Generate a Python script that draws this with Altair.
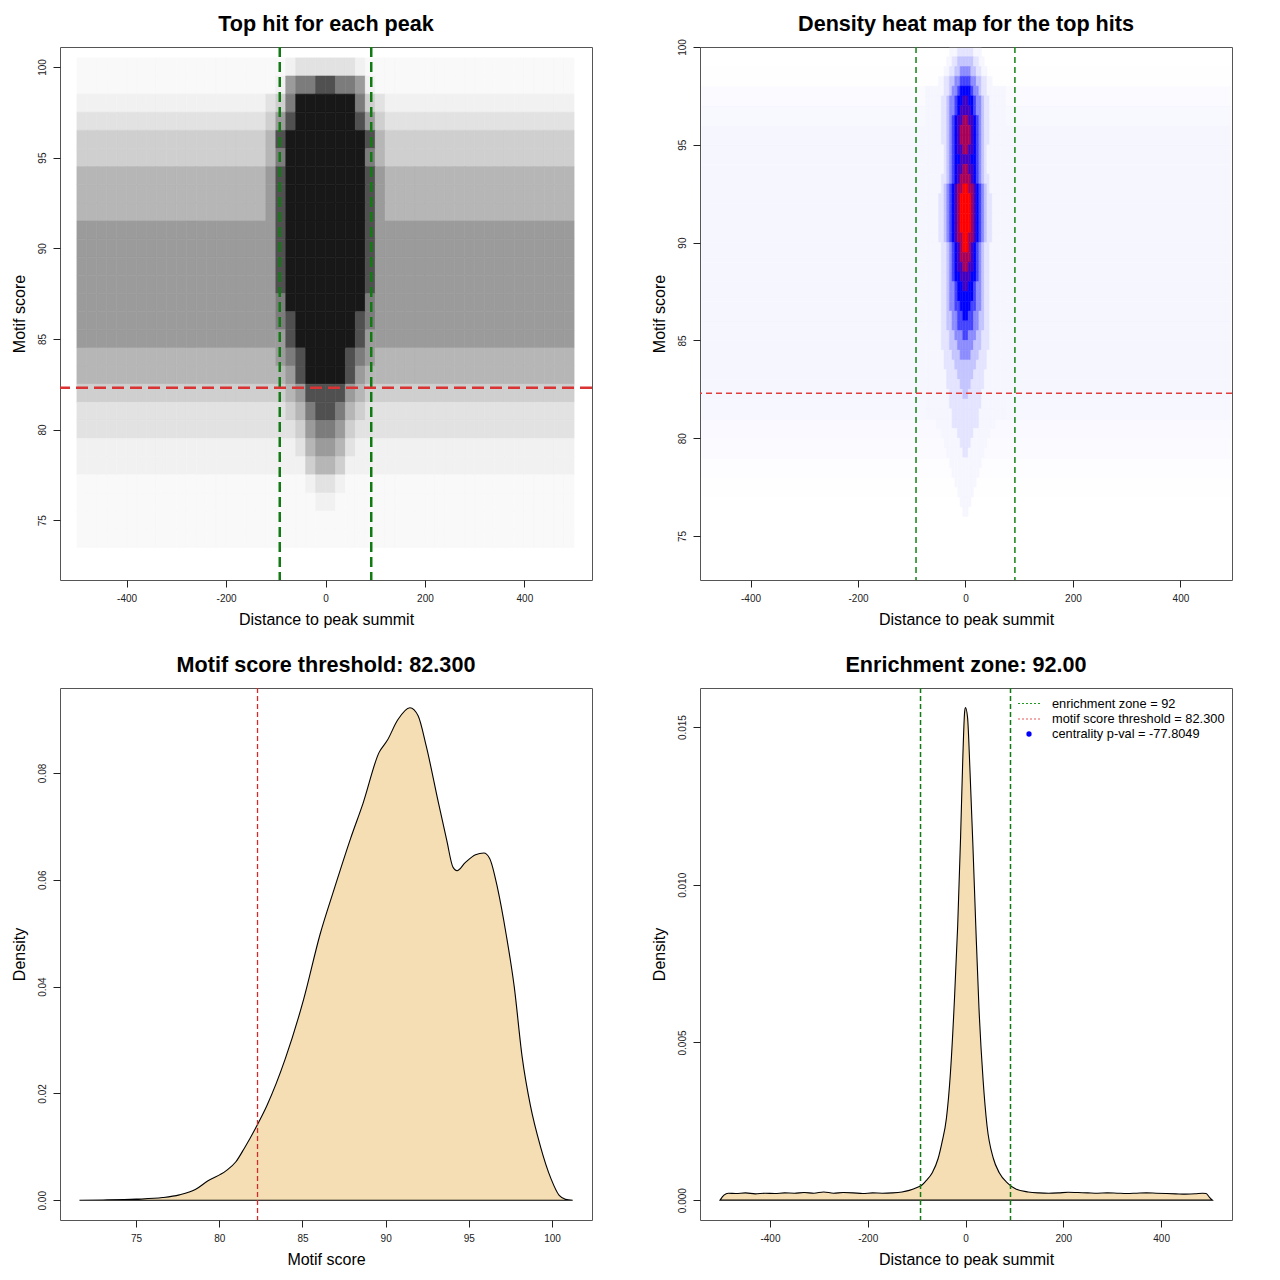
import altair as alt
import pandas as pd

FONT = "Liberation Sans"

# ---------------- values ----------------
ZONE = 92
THRESH = 82.3
CENTRALITY = "-77.8049"

TITLE_TL = "Top hit for each peak"
TITLE_TR = "Density heat map for the top hits"
TITLE_BL = f"Motif score threshold: {THRESH:.3f}"
TITLE_BR = f"Enrichment zone: {ZONE:.2f}"
XLAB_DIST = "Distance to peak summit"
XLAB_SCORE = "Motif score"
YLAB_SCORE = "Motif score"
YLAB_DENS = "Density"

DIST_TICKS = [-400, -200, 0, 200, 400]
SCORE_TICKS = [75, 80, 85, 90, 95, 100]
DENS_TICKS_BL = [0.0, 0.02, 0.04, 0.06, 0.08]
DENS_TICKS_BR = [0.0, 0.005, 0.010, 0.015]

# top-left: how dark the point cloud is, per 20-unit distance bin (50 bins from -500)
# and per 1-unit score row (centred on the score); code 0..9 -> coverage below
SC_X_START = -500
SC_X_STEP = 20
SC_COVER = [0, 0.02, 0.05, 0.1, 0.17, 0.26, 0.36, 0.48, 0.66, 0.92]
SC_Y = [100, 99, 98, 97, 96, 95, 94, 93, 92, 91, 90, 89, 88, 87, 86, 85, 84,
        83, 82, 81, 80, 79, 78, 77, 76, 75, 74, 73]
SC_ROWS = [
    "1111111111111111111" "112333333211" "1111111111111111111",
    "1111111111111111111" "126778877621" "1111111111111111111",
    "2222222222222222222" "347999999743" "2222222222222222222",
    "3333333333333333333" "468999999864" "3333333333333333333",
    "4444444444444444444" "589999999985" "4444444444444444444",
    "4444444444444444444" "579999999975" "4444444444444444444",
    "5555555555555555555" "689999999986" "5555555555555555555",
    "5555555555555555555" "689999999986" "5555555555555555555",
    "5555555555555555555" "689999999986" "5555555555555555555",
    "6666666666666666666" "689999999986" "6666666666666666666",
    "6666666666666666666" "689999999986" "6666666666666666666",
    "6666666666666666666" "689999999986" "6666666666666666666",
    "6666666666666666666" "689999999986" "6666666666666666666",
    "6666666666666666666" "679999999976" "6666666666666666666",
    "6666666666666666666" "678999999876" "6666666666666666666",
    "6666666666666666666" "668999999866" "6666666666666666666",
    "5555555555555555555" "567899998765" "5555555555555555555",
    "5555555555555555555" "556899998655" "5555555555555555555",
    "4444444444444444444" "445688886544" "4444444444444444444",
    "3333333333333333333" "334578875433" "3333333333333333333",
    "3333333333333333333" "333467764333" "3333333333333333333",
    "2222222222222222222" "222356653222" "2222222222222222222",
    "2222222222222222222" "222245542222" "2222222222222222222",
    "1111111111111111111" "111123321111" "1111111111111111111",
    "1111111111111111111" "111112211111" "1111111111111111111",
    "1111111111111111111" "111111111111" "1111111111111111111",
    "1111111111111111111" "111111111111" "1111111111111111111",
    "0000000000000000000" "000000000000" "0000000000000000000",
]

# top-right: heat map level (0 white .. 6 blue .. 9 red),
# 5-unit columns from -75, half-unit rows (lower edge listed)
HM_COLORS = ["#ffffff", "#f6f6ff", "#e4e4ff", "#c4c4ff", "#8c8cff",
             "#4444ff", "#0000ff", "#4400c0", "#a80058", "#ff0000"]
HM_BG_Y0 = list(range(76, 100))
HM_BG_LEVEL = [0, 0.1, 0.2, 0.4, 0.7, 0.9, 1, 1, 1, 1, 1, 1, 1, 1, 1, 1, 1, 1,
               1, 1, 0.8, 0.4, 0.1, 0]
HM_X_START = -75
HM_X_STEP = 5
HM_Y_STEP = 0.5
HM_Y0 = [99.5, 99.0, 98.5, 98.0, 97.5, 97.0, 96.5, 96.0, 95.5, 95.0, 94.5,
         94.0, 93.5, 93.0, 92.5, 92.0, 91.5, 91.0, 90.5, 90.0, 89.5, 89.0,
         88.5, 88.0, 87.5, 87.0, 86.5, 86.0, 85.5, 85.0, 84.5, 84.0, 83.5,
         83.0, 82.5, 82.0, 81.5, 81.0, 80.5, 80.0, 79.5, 79.0, 78.5, 78.0,
         77.5, 77.0, 76.5, 76.0]
HM_ROWS = [
    "000000000111222" "222111000000000",
    "000000001122333" "333221100000000",
    "000000011223344" "443322110000000",
    "000001122334455" "554433221100000",
    "111111122344566" "665443221111111",
    "111111223445667" "766544322111111",
    "111111223445677" "776544322111111",
    "111111223456778" "877654322111111",
    "111111223456788" "887654322111111",
    "111111223456788" "887654322111111",
    "111111123456778" "877654321111111",
    "111111123456677" "776654321111111",
    "111111123456778" "877654321111111",
    "111111223456788" "887654322111111",
    "111111234567889" "988765432111111",
    "111112234567899" "998765432211111",
    "111112234567899" "998765432211111",
    "111112234567899" "998765432211111",
    "111112234567899" "998765432211111",
    "111112234567889" "988765432211111",
    "111111223456789" "987654322111111",
    "111111223456788" "887654322111111",
    "111111223456778" "877654322111111",
    "111111223456677" "776654322111111",
    "111111223445667" "766544322111111",
    "111111223445666" "666544322111111",
    "111111223445566" "665544322111111",
    "111111223344556" "655443322111111",
    "111111223344555" "555443322111111",
    "111111222334445" "544433222111111",
    "111111222333444" "444333222111111",
    "111111122233344" "443332221111111",
    "111111122223333" "333322221111111",
    "111111112222333" "333222211111111",
    "111111112222233" "332222211111111",
    "111111111222223" "322222111111111",
    "111111111222222" "222222111111111",
    "111111111122222" "222221111111111",
    "000011111122222" "222221111110000",
    "000000111111222" "222111111000000",
    "000000011111122" "221111110000000",
    "000000001111112" "211111100000000",
    "000000000111111" "111111000000000",
    "000000000011111" "111110000000000",
    "000000000001111" "111100000000000",
    "000000000000111" "111000000000000",
    "000000000000011" "110000000000000",
    "000000000000001" "100000000000000",
]

# bottom-left: density of motif scores
SCORE_X = [71.6, 73.0, 75.0, 76.6, 77.6, 78.56, 79.3, 80.4, 81.0, 81.5, 82.25,
           82.86, 83.97, 85.07, 86.06, 86.9, 87.9, 88.64, 89.6, 90.1, 90.72,
           91.46, 91.95, 92.44, 93.18, 93.67, 94.04, 94.29, 94.78, 95.4, 95.9,
           96.25, 96.74, 97.24, 97.73, 98.2, 98.7, 99.3, 99.94, 100.43, 100.8,
           101.24]
SCORE_D = [0.0, 0.00005, 0.0002, 0.0005, 0.001, 0.002, 0.0036, 0.0055, 0.0072,
           0.0097, 0.0139, 0.0177, 0.0265, 0.0376, 0.0498, 0.0582, 0.0678,
           0.0743, 0.0838, 0.0861, 0.0899, 0.0922, 0.0907, 0.085, 0.0743,
           0.0674, 0.0624, 0.0617, 0.0632, 0.0647, 0.065, 0.064, 0.0582,
           0.0498, 0.0399, 0.0269, 0.0177, 0.0101, 0.004, 0.0009, 0.0002, 0.0]

# bottom-right: density of distances
DIST_X = [-502, -494, -485, -470, -450, -430, -410, -390, -370, -350, -330,
          -310, -290, -270, -250, -230, -210, -190, -170, -150, -130, -115,
          -98, -89, -81, -68, -56, -48, -39, -31, -22.5, -16, -10, -5.8, -1.7,
          0, 4.2, 9.2, 15, 21, 27.5, 36, 44, 57, 69, 86, 103, 128, 150, 170,
          190, 210, 230, 250, 270, 290, 310, 330, 350, 370, 390, 410, 430, 450,
          470, 485, 492, 499, 505]
DIST_D = [0.0, 0.00016, 0.00022, 0.00021, 0.00023, 0.0002, 0.00022, 0.00021,
          0.00023, 0.00022, 0.00024, 0.00022, 0.00026, 0.00022, 0.00024,
          0.00023, 0.00021, 0.00023, 0.00022, 0.00023, 0.00026, 0.00031,
          0.00041, 0.00048, 0.00061, 0.00087, 0.00132, 0.00184, 0.0026,
          0.004, 0.0064, 0.0087, 0.01155, 0.01388, 0.0155, 0.01562, 0.0153,
          0.0136, 0.0113, 0.0087, 0.0061, 0.0038, 0.00236, 0.00132, 0.00087,
          0.00054, 0.00035, 0.00026, 0.00023, 0.00022, 0.00023, 0.00025,
          0.00024, 0.00023, 0.00022, 0.00023, 0.00022, 0.00021, 0.00022,
          0.00023, 0.00022, 0.00021, 0.0002, 0.00019, 0.0002, 0.00022,
          0.00021, 0.00009, 0.0]

LEGEND_TEXT = [f"enrichment zone = {ZONE}",
               f"motif score threshold = {THRESH:.3f}",
               f"centrality p-val = {CENTRALITY}"]

# ---------------- tables ----------------
sc_recs = []
for yc, row in zip(SC_Y, SC_ROWS):
    for i, ch in enumerate(row):
        if ch == "0":
            continue
        x0 = SC_X_START + i * SC_X_STEP
        sc_recs.append({"x0": x0, "x1": x0 + SC_X_STEP, "y0": yc - 0.5,
                        "y1": yc + 0.5, "cov": SC_COVER[int(ch)]})
sc_df = pd.DataFrame(sc_recs)

hm_bg_df = pd.DataFrame({"x0": -491, "x1": 493.5, "y0": HM_BG_Y0,
                         "y1": [y + 1 for y in HM_BG_Y0], "lev": HM_BG_LEVEL})
hm_bg_df = hm_bg_df[hm_bg_df["lev"] > 0]
hm_recs = []
for y0, row in zip(HM_Y0, HM_ROWS):
    for i, ch in enumerate(row):
        if ch == "0":
            continue
        x0 = HM_X_START + i * HM_X_STEP
        hm_recs.append({"x0": x0, "x1": x0 + HM_X_STEP, "y0": y0,
                        "y1": min(y0 + HM_Y_STEP, 99.94), "lev": int(ch)})
hm_df = pd.concat([hm_bg_df, pd.DataFrame(hm_recs)], ignore_index=True)

score_df = pd.DataFrame({"s": SCORE_X, "d": SCORE_D})
dist_df = pd.DataFrame({"x": DIST_X, "d": DIST_D})
zone_df = pd.DataFrame({"x": [-ZONE, ZONE]})
thr_df = pd.DataFrame({"y": [THRESH]})

W, H = 532, 533
INT_LABEL = "'' + datum.value"


def title(t, off):
    return alt.TitleParams(t, fontSize=21.6, font=FONT, fontWeight="bold",
                           anchor="middle", baseline="alphabetic", offset=off,
                           frame="group")


def xaxis(vals, t, expr=INT_LABEL):
    return alt.Axis(values=vals, title=t, labelExpr=expr)


def yaxis(vals, t, expr=INT_LABEL):
    return alt.Axis(values=vals, title=t, labelExpr=expr)


# ---------------- top-left ----------------
tl_xs = alt.Scale(domain=[-534, 536], nice=False, zero=False)
tl_ys = alt.Scale(domain=[71.7, 101.1], nice=False, zero=False)
tl_xa = xaxis(DIST_TICKS, XLAB_DIST)
tl_ya = yaxis(SCORE_TICKS, YLAB_SCORE)
gray = alt.Scale(domain=[0, 1], range=["#ffffff", "#000000"])
tl_cells = alt.Chart(sc_df).mark_rect(strokeWidth=0.6).encode(
    x=alt.X("x0:Q", scale=tl_xs, axis=tl_xa), x2="x1:Q",
    y=alt.Y("y0:Q", scale=tl_ys, axis=tl_ya), y2="y1:Q",
    color=alt.Color("cov:Q", scale=gray, legend=None),
    stroke=alt.Stroke("cov:Q", scale=gray, legend=None),
)
tl_v = alt.Chart(zone_df).mark_rule(color="#127a12", strokeWidth=2.5,
                                    strokeDash=[10, 5]).encode(
    x=alt.X("x:Q", scale=tl_xs, axis=tl_xa))
tl_h = alt.Chart(thr_df).mark_rule(color="#d93333", strokeWidth=2.5,
                                   strokeDash=[12, 6]).encode(
    y=alt.Y("y:Q", scale=tl_ys, axis=tl_ya))
tl = alt.layer(tl_cells, tl_v, tl_h).properties(width=W, height=H,
                                                 title=title(TITLE_TL, -7))

# ---------------- top-right ----------------
tr_xs = alt.Scale(domain=[-494, 496], nice=False, zero=False)
tr_ys = alt.Scale(domain=[72.75, 100], nice=False, zero=False)
tr_xa = xaxis(DIST_TICKS, XLAB_DIST)
tr_ya = yaxis(SCORE_TICKS, YLAB_SCORE)
heat = alt.Scale(domain=list(range(10)), range=HM_COLORS)
tr_cells = alt.Chart(hm_df).mark_rect(strokeWidth=0.5, clip=True).encode(
    x=alt.X("x0:Q", scale=tr_xs, axis=tr_xa), x2="x1:Q",
    y=alt.Y("y0:Q", scale=tr_ys, axis=tr_ya), y2="y1:Q",
    color=alt.Color("lev:Q", scale=heat, legend=None),
    stroke=alt.Stroke("lev:Q", scale=heat, legend=None),
)
tr_v = alt.Chart(zone_df).mark_rule(color="#228b22", strokeWidth=1.6,
                                    strokeDash=[6, 4]).encode(
    x=alt.X("x:Q", scale=tr_xs, axis=tr_xa))
tr_h = alt.Chart(thr_df).mark_rule(color="#e03c3c", strokeWidth=1.6,
                                   strokeDash=[6, 4]).encode(
    y=alt.Y("y:Q", scale=tr_ys, axis=tr_ya))
tr = alt.layer(tr_cells, tr_v, tr_h).properties(width=W, height=H,
                                                 title=title(TITLE_TR, -14))

# ---------------- bottom-left ----------------
bl_xs = alt.Scale(domain=[70.43, 102.4], nice=False, zero=False)
bl_ys = alt.Scale(domain=[-0.0037, 0.0959], nice=False, zero=False)
bl_xa = xaxis(SCORE_TICKS, XLAB_SCORE)
bl_ya = yaxis(DENS_TICKS_BL, YLAB_DENS, "format(datum.value, '.2f')")
bl_area = alt.Chart(score_df).mark_area(
    fill="#f5deb3", stroke="black", strokeWidth=1.1, interpolate="monotone"
).encode(x=alt.X("s:Q", scale=bl_xs, axis=bl_xa),
         y=alt.Y("d:Q", scale=bl_ys, axis=bl_ya))
bl_v = alt.Chart(pd.DataFrame({"x": [THRESH]})).mark_rule(
    color="#d42a2a", strokeWidth=1.3, strokeDash=[5, 3]).encode(
    x=alt.X("x:Q", scale=bl_xs, axis=bl_xa))
bl = alt.layer(bl_area, bl_v).properties(width=W, height=H - 1,
                                         title=title(TITLE_BL, -6))

# ---------------- bottom-right ----------------
br_xs = alt.Scale(domain=[-543, 545], nice=False, zero=False)
br_ys = alt.Scale(domain=[-0.00063, 0.01624], nice=False, zero=False)
br_xa = xaxis(DIST_TICKS, XLAB_DIST)
br_ya = yaxis(DENS_TICKS_BR, YLAB_DENS, "format(datum.value, '.3f')")
br_area = alt.Chart(dist_df).mark_area(
    fill="#f5deb3", stroke="black", strokeWidth=1.1, interpolate="monotone"
).encode(x=alt.X("x:Q", scale=br_xs, axis=br_xa),
         y=alt.Y("d:Q", scale=br_ys, axis=br_ya))
br_v = alt.Chart(zone_df).mark_rule(color="#127a12", strokeWidth=1.5,
                                    strokeDash=[5, 3]).encode(
    x=alt.X("x:Q", scale=br_xs, axis=br_xa))

leg_rows = [15.5, 31, 46]
leg_layers = []
leg_line_styles = [("#1f9a1f", [2, 2]), ("#e85a5a", [2, 2])]
for k, (col, dash) in enumerate(leg_line_styles):
    leg_layers.append(
        alt.Chart(pd.DataFrame({"t": [LEGEND_TEXT[k]]})).mark_rule(
            color=col, strokeWidth=1.2, strokeDash=dash).encode(
            x=alt.value(318), x2=alt.value(342), y=alt.value(leg_rows[k])))
leg_layers.append(
    alt.Chart(pd.DataFrame({"t": [LEGEND_TEXT[2]]})).mark_circle(
        color="#0000ff", opacity=1, size=28).encode(
        x=alt.value(329), y=alt.value(leg_rows[2])))
for k in range(3):
    leg_layers.append(
        alt.Chart(pd.DataFrame({"t": [LEGEND_TEXT[k]]})).mark_text(
            font=FONT, fontSize=12.8, align="left", baseline="middle",
            color="black").encode(
            text="t:N", x=alt.value(352), y=alt.value(leg_rows[k])))

br = alt.layer(br_area, br_v, *leg_layers).properties(
    width=W, height=H - 1, title=title(TITLE_BR, -6))

chart = alt.concat(tl, tr, bl, br, columns=2, spacing=108, bounds="flush"
).resolve_scale(
    color="independent", stroke="independent"
).properties(
    padding={"left": 2, "top": 5, "right": 5, "bottom": 5},
    background="white",
).configure_view(
    stroke="#555555", strokeWidth=1
).configure_axis(
    domain=False, grid=False, ticks=True, tickSize=7, tickColor="#222222",
    tickWidth=1, labelFont=FONT, labelFontSize=10, labelColor="#222222",
    labelFlush=False, labelOverlap=False, titleFont=FONT, titleFontSize=16,
    titleFontWeight="normal", titleColor="black",
).configure_axisBottom(
    labelPadding=6, titlePadding=8,
).configure_axisLeft(
    labelAngle=270, labelAlign="center", labelBaseline="bottom",
    labelPadding=6, titlePadding=10,
)

chart.save("out.html", embed_options={"renderer": "svg", "actions": False})
